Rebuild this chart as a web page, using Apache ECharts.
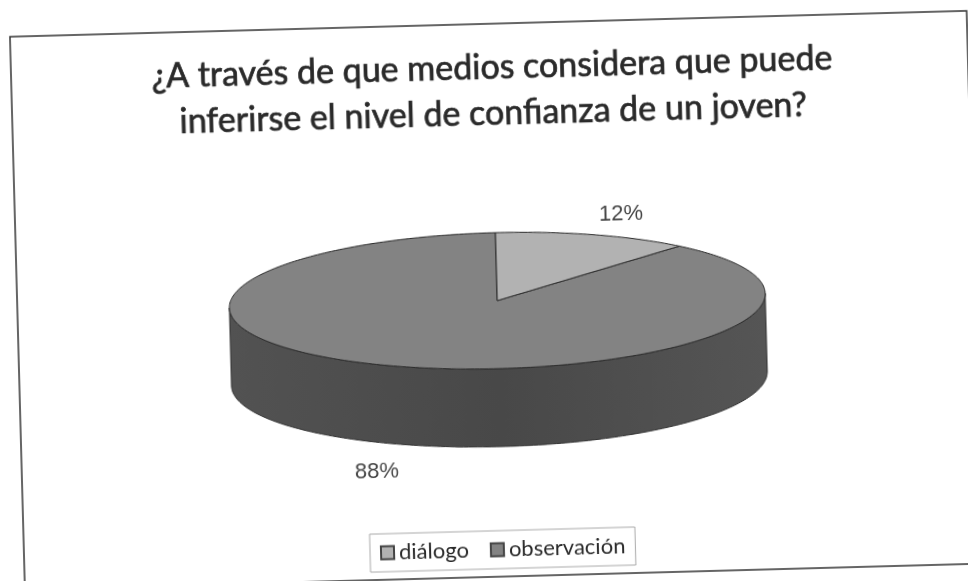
<!DOCTYPE html>
<html>
<head>
<meta charset="utf-8">
<style>
  html, body { margin: 0; padding: 0; background: #fff; overflow: hidden; width: 968px; height: 581px; }
  /* the page was scanned slightly crooked, so the whole chart is turned */
  #main { position: absolute; left: -16px; top: -20px; width: 1000px; height: 621px; transform: rotate(-1.55deg); transform-origin: 50% 50%; }
</style>
</head>
<body>
<div id="main"></div>
<script src="https://cdn.jsdelivr.net/npm/echarts@6/dist/echarts.min.js"></script>
<script>
const categories = ["diálogo", "observación"]
const values = [12, 88]
const titleLines = ["¿A través de que medios considera que puede", "inferirse el nivel de confianza de un joven?"]

const topColors = ["#b2b2b2", "#838383"]
const labelOffsets = [[126, -83], [-125, 168]]

const total = values.reduce((a, b) => a + b, 0)
const pie = { cx: 513, cy: 321, rx: 268, ry: 68, depth: 78 }

function ellipsePoint(deg, dy) {
  const a = (deg * Math.PI) / 180
  return [pie.cx + pie.rx * Math.sin(a), pie.cy + (dy || 0) - pie.ry * Math.cos(a)]
}

function sliceRange(idx) {
  let start = 0
  for (let i = 0; i < idx; i++) start += values[i]
  return [(start / total) * 360, ((start + values[idx]) / total) * 360]
}

function renderSlice(idx) {
  return function (params, api) {
    const range = sliceRange(idx)
    const children = []
    // the wall only shows on the front half of the disc
    const from = Math.max(range[0], 90)
    const to = Math.min(range[1], 270)
    if (to > from) {
      const wall = []
      for (let d = from; d <= to; d++) wall.push(ellipsePoint(d))
      for (let d = to; d >= from; d--) wall.push(ellipsePoint(d, pie.depth))
      children.push({
        type: "polygon",
        shape: { points: wall },
        style: {
          fill: new echarts.graphic.LinearGradient(0, 0, 1, 0, [
            { offset: 0, color: "#525252" },
            { offset: 0.5, color: "#484848" },
            { offset: 1, color: "#555" },
          ]),
          stroke: "#333",
          lineWidth: 1,
        },
      })
    }
    const top = [[pie.cx, pie.cy]]
    for (let d = range[0]; d < range[1]; d++) top.push(ellipsePoint(d))
    top.push(ellipsePoint(range[1]))
    children.push({
      type: "polygon",
      shape: { points: top },
      style: { fill: topColors[idx], stroke: "#2b2b2b", lineWidth: 1 },
    })
    children.push({
      type: "text",
      style: {
        text: values[idx] + "%",
        x: pie.cx + labelOffsets[idx][0],
        y: pie.cy + labelOffsets[idx][1],
        align: "center",
        verticalAlign: "middle",
        fill: "#444",
        font: '22px "Liberation Sans"',
      },
    })
    return { type: "group", children: children }
  }
}

let myChart = echarts.init(document.getElementById("main"), null, { renderer: "canvas" })
myChart.setOption({
  animation: false,
  backgroundColor: "#fff",
  title: {
    text: titleLines.join("\n"),
    left: 509,
    top: 60,
    textAlign: "center",
    textStyle: {
      fontFamily: "Lato",
      fontSize: 34,
      fontWeight: 400,
      color: "#2a2a2a",
      textBorderColor: "#2a2a2a",
      textBorderWidth: 0.7,
      lineHeight: 46,
    },
  },
  legend: {
    left: 379,
    top: 551,
    padding: [8, 10, 8, 10],
    itemGap: 21,
    itemWidth: 13,
    itemHeight: 13,
    icon: "rect",
    backgroundColor: "#fff",
    borderColor: "#aaa",
    borderWidth: 1,
    textStyle: { fontFamily: "Lato", fontSize: 22, color: "#2a2a2a" },
    data: categories,
  },
  graphic: [
    {
      type: "rect",
      silent: true,
      z: -1,
      shape: { x: 33, y: 44, width: 957, height: 553 },
      style: { fill: "#fff", stroke: "#333", lineWidth: 1.5 },
    },
  ],
  series: categories.map((name, i) => ({
    type: "custom",
    name: name,
    coordinateSystem: "none",
    itemStyle: { color: topColors[i], borderColor: "#444", borderWidth: 1 },
    data: [values[i]],
    z: i === 0 ? 3 : 2,
    renderItem: renderSlice(i),
  })),
})

window.addEventListener("resize", () => {
  myChart.resize()
})
</script>
</body>
</html>
